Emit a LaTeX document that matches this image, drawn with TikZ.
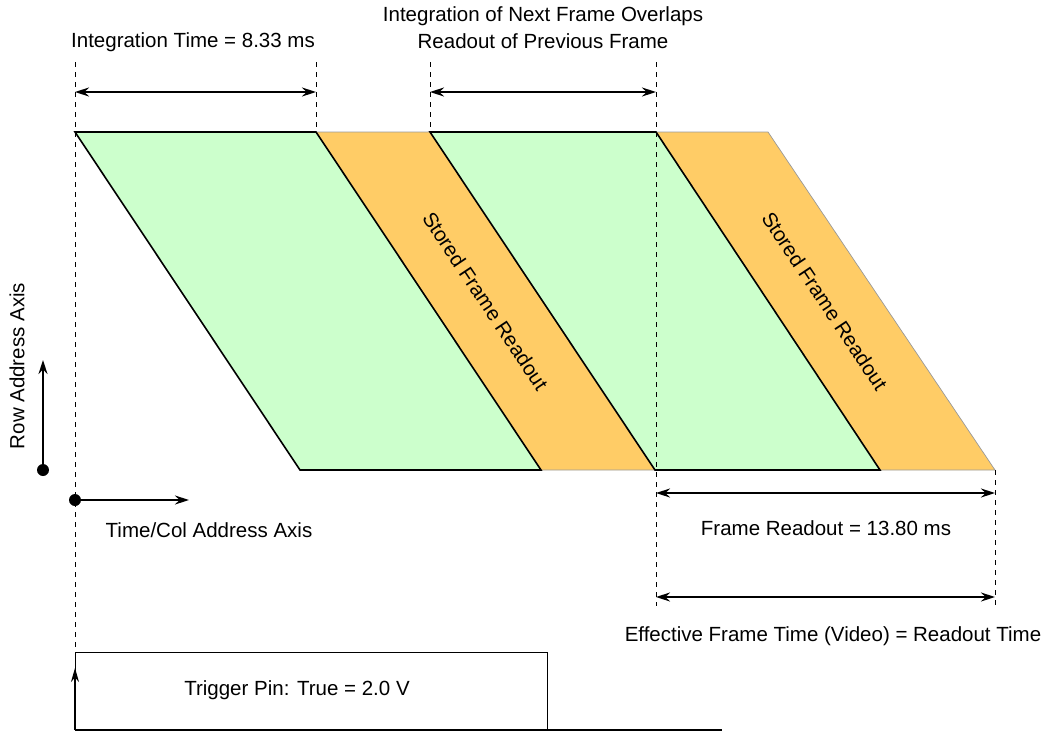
\documentclass[tikz,border=0pt]{standalone}
\usepackage{fontspec}
\setmainfont{Liberation Sans}
\usetikzlibrary{arrows.meta}
\definecolor{grn}{HTML}{CCFFCC}
\definecolor{org}{HTML}{FFCC66}
\begin{document}
\begin{tikzpicture}[x=1pt,y=-1pt,
  greenband/.style={fill=grn,draw=black,line width=1.6pt,line join=miter},
  orangeband/.style={fill=org,draw=black!40,line width=0.7pt},
  guide/.style={draw=black,line width=1pt,dash pattern=on 5pt off 5pt},
  dim/.style={line width=1.5pt,{Stealth[length=14pt,width=9pt]}-{Stealth[length=14pt,width=9pt]}},
  axisarrow/.style={line width=1.5pt,-{Stealth[length=14pt,width=9pt]}},
  lbl/.style={font=\fontsize{20.5}{24}\selectfont,inner sep=0pt},
  dot/.style={circle,fill=black,inner sep=0pt,minimum size=12pt}]
\useasboundingbox (0,0) rectangle (1053,734);
% coordinates
\coordinate (a1) at (75,132);
\coordinate (a2) at (316,132);
\coordinate (a3) at (430,132);
\coordinate (a4) at (656,132);
\coordinate (a5) at (768,132);
\coordinate (b1) at (300,470);
\coordinate (b2) at (541,470);
\coordinate (b3) at (655,470);
\coordinate (b4) at (880,470);
\coordinate (b5) at (995,470);
% bands
\draw[orangeband] (a2) -- (a3) -- (b3) -- (b2) -- cycle;
\draw[orangeband] (a4) -- (a5) -- (b5) -- (b4) -- cycle;
\draw[greenband] (a1) -- (a2) -- (b2) -- (b1) -- cycle;
\draw[greenband] (a3) -- (a4) -- (b4) -- (b3) -- cycle;
% band labels
\node[lbl,rotate=-56.3] (sf1) at (485.5,301) {Stored Frame Readout};
\node[lbl,rotate=-56.3] (sf2) at (824.8,301) {Stored Frame Readout};
% guides
\coordinate (g1t) at (75,62);   \coordinate (g1b) at (75,650);
\coordinate (g2t) at (316,62);
\coordinate (g3t) at (430,62);
\coordinate (g4t) at (656,62);  \coordinate (g4b) at (656,606);
\coordinate (g5b) at (995,606);
\draw[guide] (g1t) -- (g1b);
\draw[guide] (g2t) -- (a2);
\draw[guide] (g3t) -- (a3);
\draw[guide] (g4t) -- (g4b);
\draw[guide] (b5) -- (g5b);
% dimension arrows
\coordinate (d1l) at (75,92);  \coordinate (d1r) at (316,92);
\coordinate (d2l) at (430,92); \coordinate (d2r) at (656,92);
\coordinate (d3l) at (656,493); \coordinate (d3r) at (995,493);
\coordinate (d4l) at (656,597); \coordinate (d4r) at (995,597);
\draw[dim] (d1l) -- (d1r);
\draw[dim] (d2l) -- (d2r);
\draw[dim] (d3l) -- (d3r);
\draw[dim] (d4l) -- (d4r);
% labels
\node[lbl] (it) at (193,42) {Integration Time = 8.33 ms};
\node[lbl,align=center] (ov) at (543,28) {Integration of Next Frame Overlaps\\[3pt]Readout of Previous Frame};
\node[lbl] (fr) at (826,528) {Frame Readout = 13.80 ms};
\node[lbl] (ef) at (833,636) {Effective Frame Time (Video) = Readout Time};
% axes
\node[dot] (rowdot) at (43,470) {};
\coordinate (rowtip) at (43,360);
\draw[axisarrow] (rowdot.center) -- (rowtip);
\node[lbl,rotate=90] (rowlbl) at (17,366) {Row Address Axis};
\node[dot] (coldot) at (75,500) {};
\coordinate (coltip) at (189,500);
\draw[axisarrow] (coldot.center) -- (coltip);
\node[lbl] (collbl) at (209,530) {Time/Col Address Axis};
% trigger
\coordinate (t0) at (75,730);
\coordinate (t1) at (75,652);
\coordinate (t2) at (547,652);
\coordinate (t3) at (547,730);
\coordinate (t4) at (722,730);
\coordinate (tmid) at (75,668);
\draw[line width=1pt] (t0) -- (t1) -- (t2) -- (t3);
\draw[line width=1.5pt] (t0) -- (t4);
\draw[line width=1.5pt,-{Stealth[length=14pt,width=8pt]}] (t0) -- (tmid);
\node[lbl] (trig) at (297,690) {Trigger Pin: True = 2.0 V};
\end{tikzpicture}
\end{document}
